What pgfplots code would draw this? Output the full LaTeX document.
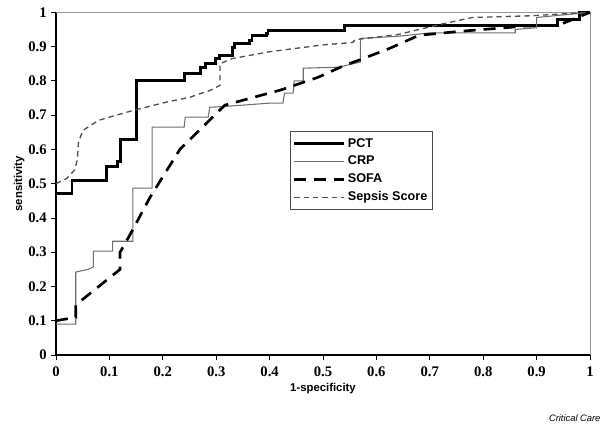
\documentclass[border=0pt]{standalone}
\usepackage{fontspec}
\setmainfont{Liberation Serif}
\setsansfont{Liberation Sans}
\usepackage{pgfplots}
\pgfplotsset{compat=1.18}
\definecolor{crpgray}{RGB}{110,110,110}
\definecolor{sepgray}{RGB}{80,80,80}
\definecolor{framegray}{RGB}{150,150,150}

\begin{document}
\begin{tikzpicture}
\useasboundingbox (-42pt,-52.5pt) rectangle (408pt,266.25pt);
\begin{axis}[
  at={(0,0)}, anchor=south west,
  scale only axis,
  width=400.5pt, height=257pt,
  xmin=0, xmax=1, ymin=0, ymax=1,
  axis lines=left,
  axis line style={black, line width=0.8pt, -},
  xtick={0,0.1,...,1.0}, ytick={0,0.1,...,1.0},
  tick align=outside,
  major tick length=3.5pt,
  tick style={black, line width=0.6pt},
  /pgf/number format/assume math mode=true,
  ticklabel style={font=\fontsize{11}{12}\selectfont\bfseries},
  xticklabel style={yshift=-2pt},
  xlabel={1-specificity},
  ylabel={sensitivity},
  xlabel style={font=\sffamily\bfseries\fontsize{8.5}{10}\selectfont, yshift=2pt},
  ylabel style={font=\sffamily\bfseries\fontsize{8.5}{10}\selectfont, yshift=-4pt},
  legend style={at={(rel axis cs:0.438,0.653)}, anchor=north west,
    draw=black!70, line width=0.6pt, fill=white,
    font=\sffamily\bfseries\fontsize{9.5}{11}\selectfont,
    row sep=1.2pt, inner xsep=2pt, inner ysep=3pt},
  legend cell align=left,
  legend image code/.code={\draw[#1] (0cm,0cm) -- (1.3cm,0cm);},
  clip=false,
]
\draw[framegray, line width=0.7pt] (rel axis cs:0,1) -- (rel axis cs:1,1) -- (rel axis cs:1,0);

% PCT
\addplot[black, line width=2.2pt, line join=miter] coordinates {
(0,0) (0,0.47) (0.03,0.47) (0.03,0.51) (0.095,0.51) (0.095,0.55)
(0.115,0.55) (0.115,0.565) (0.12,0.565) (0.12,0.63) (0.15,0.63) (0.15,0.80)
(0.24,0.80) (0.24,0.822) (0.27,0.822) (0.27,0.84) (0.28,0.84) (0.28,0.85)
(0.298,0.85) (0.298,0.866) (0.307,0.866) (0.307,0.875) (0.33,0.875) (0.33,0.898)
(0.335,0.898) (0.335,0.91) (0.363,0.91) (0.363,0.918) (0.367,0.918) (0.367,0.933)
(0.395,0.933) (0.395,0.939) (0.397,0.939) (0.397,0.948) (0.54,0.948) (0.54,0.962)
(0.94,0.962) (0.94,0.98) (0.98,0.98) (0.98,1) (1,1)};
\addlegendentry{PCT}

% CRP
\addplot[crpgray, line width=0.8pt] coordinates {
(0,0.09) (0.037,0.09) (0.037,0.242) (0.06,0.25) (0.07,0.257) (0.07,0.303)
(0.1,0.303) (0.106,0.303) (0.106,0.332) (0.144,0.332) (0.144,0.487) (0.18,0.487)
(0.18,0.665) (0.24,0.665) (0.242,0.694) (0.285,0.694) (0.288,0.723) (0.313,0.725)
(0.4,0.735) (0.425,0.735) (0.428,0.764) (0.444,0.764) (0.446,0.80) (0.463,0.80)
(0.463,0.837) (0.53,0.84) (0.57,0.855) (0.57,0.924) (0.64,0.93) (0.7,0.94)
(0.86,0.94) (0.86,0.95) (0.9,0.955) (0.9,0.985) (1,1)};
\addlegendentry{CRP}

% SOFA
\addplot[black, line width=2pt, dash pattern=on 9pt off 6pt] coordinates {
(0,0.1) (0.037,0.11) (0.037,0.146) (0.12,0.25) (0.12,0.30) (0.14,0.355)
(0.176,0.46) (0.232,0.6) (0.316,0.729) (0.37,0.752) (0.42,0.773) (0.49,0.81)
(0.54,0.845) (0.57,0.862) (0.625,0.895) (0.68,0.933) (0.76,0.945) (0.88,0.96)
(0.94,0.962) (1,1)};
\addlegendentry{SOFA}

% Sepsis Score
\addplot[sepgray, line width=1pt, dash pattern=on 4pt off 3pt] coordinates {
(0,0.5) (0.02,0.515) (0.035,0.54) (0.04,0.57) (0.042,0.62) (0.05,0.655)
(0.08,0.685) (0.145,0.714) (0.207,0.738) (0.25,0.752) (0.29,0.773) (0.307,0.787)
(0.307,0.85) (0.33,0.865) (0.4,0.885) (0.5,0.905) (0.556,0.912) (0.56,0.92)
(0.64,0.935) (0.72,0.965) (0.78,0.985) (0.89,0.99) (1,1)};
\addlegendentry{Sepsis Score}

\node[anchor=south east, font=\sffamily\itshape\fontsize{7}{8}\selectfont, inner sep=0pt]
  at (rel axis cs:1.02,-0.195) {Critical Care};
\end{axis}
\end{tikzpicture}
\end{document}
